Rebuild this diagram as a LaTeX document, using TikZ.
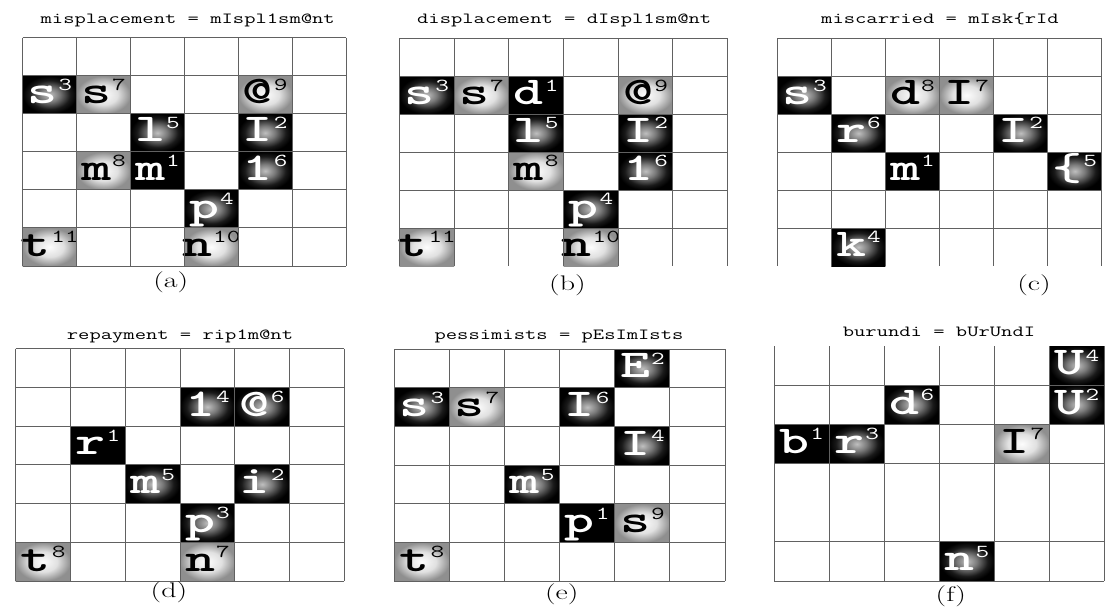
\documentclass[tikz,border=0pt]{standalone}
\usepackage{tikz}

% --- glow shadings of the tiles ---
\pgfdeclareradialshading{darkglow}{\pgfpoint{0bp}{0bp}}{color(0bp)=(black!25); color(9bp)=(black!52); color(19bp)=(black!90); color(25bp)=(black); color(50bp)=(black)}
\pgfdeclareradialshading{greyglow}{\pgfpoint{0bp}{0bp}}{color(0bp)=(black!1); color(13bp)=(black!12); color(25bp)=(black!44); color(50bp)=(black!44)}

% letter with its superscript
\newcommand{\phone}[2]{{\fontsize{28}{28}\selectfont\ttfamily\bfseries #1}\kern0.5pt{\fontsize{13}{13}\selectfont\ttfamily\raisebox{9.5pt}{#2}}}

\begin{document}
\begin{tikzpicture}[x=0.025cm, y=-0.025cm,
    grid line/.style={draw=black!62, line width=0.7pt},
    tileD/.style={shade, shading=darkglow},
    tileG/.style={shade, shading=greyglow},
    tileB/.style={fill=black},
    textD/.style={text=white},
    textG/.style={text=black},
    textB/.style={text=white},
    letter/.style={anchor=base, xscale=1.45, inner sep=0pt},
    title/.style={anchor=base, xscale=1.42, inner sep=0pt, font=\fontsize{11}{11}\selectfont\ttfamily},
    caption/.style={xscale=1.42, inner sep=0pt, font=\fontsize{15}{15}\selectfont}]

    % --- canvas ---
    \fill[white] (0,0) rectangle (1107,612);
    \useasboundingbox (0,0) rectangle (1107,612);

    % --- (a) misplacement ---
    \begin{scope}[shift={(22.7,37.7)}, x=1.347cm, y=-0.951cm]
        \foreach \c/\r/\k/\ch/\n in {0/1/D/s/3, 1/1/G/s/7, 4/1/G/@/9, 2/2/D/l/5, 4/2/D/I/2,
            1/3/G/m/8, 2/3/B/m/1, 4/3/D/1/6, 3/4/D/p/4, 0/5/G/t/11, 3/5/G/n/10} {
            \path[tile\k] (\c,\r) rectangle ++(1,1);
            \node[letter, text\k] (a-\c-\r) at (\c+0.5,\r+0.74) {\phone{\ch}{\n}};
        }
        \foreach \r in {0,...,6} \draw[grid line] (0,\r) -- (6,\r);
        \foreach \c in {0,...,6} \draw[grid line] (\c,0) -- (\c,6);
    \end{scope}
    \node[title] (titleA) at (187.7,23.5) {misplacement = mIspl1sm@nt};
    \node[caption] (capA) at (170.8,282.7) {(a)};

    % --- (b) displacement ---
    \begin{scope}[shift={(399.3,38.3)}, x=1.368cm, y=-0.949cm]
        \foreach \c/\r/\k/\ch/\n in {0/1/D/s/3, 1/1/G/s/7, 2/1/B/d/1, 4/1/G/@/9, 2/2/D/l/5,
            4/2/D/I/2, 2/3/G/m/8, 4/3/D/1/6, 3/4/D/p/4, 0/5/G/t/11, 3/5/G/n/10} {
            \path[tile\k] (\c,\r) rectangle ++(1,1);
            \node[letter, text\k] (b-\c-\r) at (\c+0.5,\r+0.74) {\phone{\ch}{\n}};
        }
        \foreach \r in {0,...,5} \draw[grid line] (0,\r) -- (6,\r);
        \foreach \c in {0,...,6} \draw[grid line] (\c,0) -- (\c,6);
    \end{scope}
    \node[title] (titleB) at (564.2,23.5) {displacement = dIspl1sm@nt};
    \node[caption] (capB) at (567.5,285) {(b)};

    % --- (c) miscarried ---
    \begin{scope}[shift={(777.3,38.3)}, x=1.352cm, y=-0.949cm]
        \foreach \c/\r/\k/\ch/\n in {0/1/D/s/3, 2/1/G/d/8, 3/1/G/I/7, 1/2/D/r/6, 4/2/D/I/2,
            2/3/B/m/1, 5/3/D/\{/5, 1/5/D/k/4} {
            \path[tile\k] (\c,\r) rectangle ++(1,1);
            \node[letter, text\k] (c-\c-\r) at (\c+0.5,\r+0.74) {\phone{\ch}{\n}};
        }
        \foreach \r in {0,...,5} \draw[grid line] (0,\r) -- (6,\r);
        \foreach \c in {0,...,6} \draw[grid line] (\c,0) -- (\c,6);
    \end{scope}
    \node[title] (titleC) at (940,23.5) {miscarried = mIsk\{rId};
    \node[caption] (capC) at (1034,285) {(c)};

    % --- (d) repayment ---
    \begin{scope}[shift={(15.7,348.7)}, x=1.369cm, y=-0.968cm]
        \foreach \c/\r/\k/\ch/\n in {3/1/D/1/4, 4/1/D/@/6, 1/2/B/r/1, 2/3/D/m/5, 4/3/D/i/2,
            3/4/D/p/3, 0/5/G/t/8, 3/5/G/n/7} {
            \path[tile\k] (\c,\r) rectangle ++(1,1);
            \node[letter, text\k] (d-\c-\r) at (\c+0.5,\r+0.74) {\phone{\ch}{\n}};
        }
        \foreach \r in {0,...,6} \draw[grid line] (0,\r) -- (6,\r);
        \foreach \c in {0,...,6} \draw[grid line] (\c,0) -- (\c,6);
    \end{scope}
    \node[title] (titleD) at (180,339.3) {repayment = rip1m@nt};
    \node[caption] (capD) at (169,592.7) {(d)};

    % --- (e) pessimists ---
    \begin{scope}[shift={(394.3,349.3)}, x=1.378cm, y=-0.9655cm]
        \foreach \c/\r/\k/\ch/\n in {4/0/D/E/2, 0/1/D/s/3, 1/1/G/s/7, 3/1/D/I/6, 4/2/D/I/4,
            2/3/D/m/5, 3/4/B/p/1, 4/4/G/s/9, 0/5/G/t/8} {
            \path[tile\k] (\c,\r) rectangle ++(1,1);
            \node[letter, text\k] (e-\c-\r) at (\c+0.5,\r+0.74) {\phone{\ch}{\n}};
        }
        \foreach \r in {0,...,6} \draw[grid line] (0,\r) -- (6,\r);
        \foreach \c in {0,...,6} \draw[grid line] (\c,0) -- (\c,6);
    \end{scope}
    \node[title] (titleE) at (559,339.3) {pessimists = pEsImIsts};
    \node[caption] (capE) at (561.7,594.3) {(e)};

    % --- (f) burundi ---
    \begin{scope}[shift={(774.3,346)}, x=1.375cm, y=-0.979cm]
        \foreach \c/\r/\k/\ch/\n in {5/0/D/U/4, 2/1/D/d/6, 5/1/D/U/2, 0/2/B/b/1, 1/2/D/r/3,
            4/2/G/I/7, 3/5/D/n/5} {
            \path[tile\k] (\c,\r) rectangle ++(1,1);
            \node[letter, text\k] (f-\c-\r) at (\c+0.5,\r+0.74) {\phone{\ch}{\n}};
        }
        \foreach \r in {1,2,3,5,6} \draw[grid line] (0,\r) -- (6,\r);
        \foreach \c in {0,...,6} \draw[grid line] (\c,0) -- (\c,6);
    \end{scope}
    \node[title] (titleF) at (939,336) {burundi = bUrUndI};
    \node[caption] (capF) at (950.8,596) {(f)};

\end{tikzpicture}
\end{document}
